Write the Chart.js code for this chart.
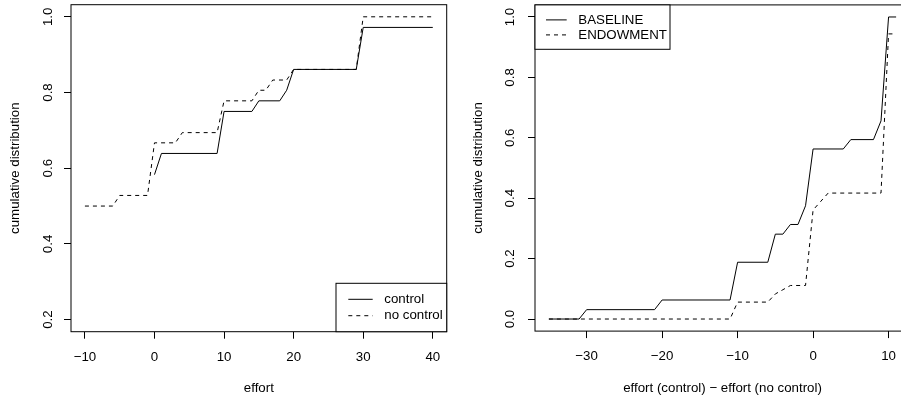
<!DOCTYPE html>
<html>
<head>
<meta charset="utf-8">
<script src="https://cdn.jsdelivr.net/npm/chart.js@4.4.1/dist/chart.umd.min.js"></script>
<style>
  html, body { margin: 0; padding: 0; background: #fff; overflow: hidden; width: 901px; height: 396px; }
  #left { position: absolute; left: 0; top: 0; width: 450px; height: 396px; }
  #right { position: absolute; left: 450px; top: 0; width: 480px; height: 396px; }
</style>
</head>
<body>
<div id="left"><canvas id="c1"></canvas></div>
<div id="right"><canvas id="c2"></canvas></div>
<script>
// left panel: cdf of effort
const effortTicks = [-10, 0, 10, 20, 30, 40];
const cdfTicksLeft = [0.2, 0.4, 0.6, 0.8, 1.0];
const controlX = [0, 1, 9, 10, 14, 15, 18, 19, 20, 29, 30, 40];
const controlY = [0.583, 0.639, 0.639, 0.75, 0.75, 0.778, 0.778, 0.806, 0.861, 0.861, 0.972, 0.972];
const noControlX = [-10, -6, -5, -1, 0, 3, 4, 9, 10, 14, 15, 16, 17, 19, 20, 29, 30, 40];
const noControlY = [0.5, 0.5, 0.528, 0.528, 0.667, 0.667, 0.694, 0.694, 0.778, 0.778, 0.806, 0.806, 0.833, 0.833, 0.861, 0.861, 1, 1];

// right panel: cdf of effort difference
const diffTicks = [-30, -20, -10, 0, 10];
const cdfTicksRight = [0.0, 0.2, 0.4, 0.6, 0.8, 1.0];
const baselineX = [-35, -31, -30, -21, -20, -11, -10, -6, -5, -4, -3, -2, -1, 0, 4, 5, 8, 9, 10, 11];
const baselineY = [0, 0, 0.031, 0.031, 0.063, 0.063, 0.188, 0.188, 0.281, 0.281, 0.313, 0.313, 0.375, 0.563, 0.563, 0.594, 0.594, 0.656, 1, 1];
const endowX = [-35, -11, -10, -6, -5, -4, -3, -1, 0, 1, 2, 9, 10, 11];
const endowY = [0, 0, 0.056, 0.056, 0.083, 0.097, 0.111, 0.111, 0.361, 0.389, 0.417, 0.417, 0.944, 0.944];

const FONT = {family: "'Liberation Sans', Arial, Helvetica, sans-serif", size: 13.3};

function pts(xs, ys) {
    return xs.map((x, i) => ({x: x, y: ys[i]}));
}

function minus(v) {
    return v < 0 ? '\u2212' + Math.abs(v) : String(v);
}

// box around the plot + R style legend inside it
const boxPlugin = {
    id: 'rbox',
    afterDatasetsDraw(chart, args, opts) {
        const a = chart.chartArea;
        const ctx = chart.ctx;
        ctx.save();
        ctx.strokeStyle = '#000';
        ctx.lineWidth = 1;
        ctx.strokeRect(a.left, a.top, a.right - a.left, a.bottom - a.top);

        const lg = opts.legend;
        const bx = lg.right ? a.right - lg.w : a.left;
        const by = lg.bottom ? a.bottom - lg.h : a.top;
        ctx.fillStyle = '#fff';
        ctx.fillRect(bx, by, lg.w, lg.h);
        ctx.strokeRect(bx, by, lg.w, lg.h);
        ctx.font = FONT.size + 'px ' + FONT.family;
        ctx.textBaseline = 'middle';
        ctx.textAlign = 'left';
        chart.data.datasets.forEach((ds, i) => {
            const y = by + lg.row0 + i * lg.rowGap;
            ctx.setLineDash(ds.borderDash || []);
            ctx.beginPath();
            ctx.moveTo(bx + lg.s0, y);
            ctx.lineTo(bx + lg.s1, y);
            ctx.stroke();
            ctx.setLineDash([]);
            ctx.fillStyle = '#000';
            ctx.fillText(ds.label, bx + lg.tx, y);
        });
        ctx.restore();
    }
};

function makePanel(id, p) {
    return new Chart(document.getElementById(id), {
        type: 'line',
        data: {
            datasets: [
                {label: p.names[0], data: p.solid, borderColor: '#000', borderWidth: 1, pointRadius: 0, tension: 0, fill: false},
                {label: p.names[1], data: p.dashed, borderColor: '#000', borderWidth: 1, borderDash: [4, 4], pointRadius: 0, tension: 0, fill: false}
            ]
        },
        options: {
            responsive: true,
            maintainAspectRatio: false,
            animation: false,
            layout: {padding: {top: p.padTop, right: p.padRight, left: 0, bottom: 0}},
            plugins: {
                legend: {display: false},
                tooltip: {enabled: false},
                rbox: {legend: p.legend}
            },
            scales: {
                x: {
                    type: 'linear',
                    min: p.xMin,
                    max: p.xMax,
                    afterBuildTicks: s => { s.ticks = p.xTicks.map(v => ({value: v})); },
                    afterFit: s => { s.height = p.xH; s.paddingLeft = 0; s.paddingRight = 0; },
                    grid: {drawOnChartArea: false, drawTicks: true, tickLength: 7, color: '#000'},
                    border: {display: false},
                    ticks: {color: '#000', font: FONT, padding: 10.5, maxRotation: 0, autoSkip: false, callback: v => minus(v)},
                    title: {display: true, text: p.xTitle, color: '#000', font: FONT, padding: {top: 0, bottom: 0}}
                },
                y: {
                    type: 'linear',
                    min: p.yMin,
                    max: p.yMax,
                    afterBuildTicks: s => { s.ticks = p.yTicks.map(v => ({value: v})); },
                    afterFit: s => { s.width = p.yW; s.paddingTop = 0; s.paddingBottom = 0; },
                    grid: {drawOnChartArea: false, drawTicks: true, tickLength: 7, color: '#000'},
                    border: {display: false},
                    ticks: {color: '#000', font: FONT, padding: p.yPad, minRotation: 90, maxRotation: 90, crossAlign: 'center', autoSkip: false, callback: v => v.toFixed(1)},
                    title: {display: true, text: 'cumulative distribution', color: '#000', font: FONT, padding: {top: p.yTitlePad, bottom: 0}}
                }
            }
        },
        plugins: [boxPlugin]
    });
}

makePanel('c1', {
    names: ['control', 'no control'],
    solid: pts(controlX, controlY),
    dashed: pts(noControlX, noControlY),
    xTicks: effortTicks, yTicks: cdfTicksLeft,
    xMin: -12, xMax: 42, yMin: 0.168, yMax: 1.032,
    xTitle: 'effort',
    padTop: 4.7, padRight: 3.3, xH: 64.3, yW: 71, yPad: 6.5, yTitlePad: 7.4,
    legend: {right: true, bottom: true, w: 110.7, h: 48.4, row0: 16, rowGap: 16.4, s0: 12.3, s1: 36.7, tx: 48.3}
});

makePanel('c2', {
    names: ['BASELINE', 'ENDOWMENT'],
    solid: pts(baselineX, baselineY),
    dashed: pts(endowX, endowY),
    xTicks: diffTicks, yTicks: cdfTicksRight,
    xMin: -36.84, xMax: 12.84, yMin: -0.04, yMax: 1.04,
    xTitle: 'effort (control) \u2212 effort (no control)',
    padTop: 4.9, padRight: 20, xH: 64.9, yW: 85, yPad: 8.75, yTitlePad: 20.7,
    legend: {right: false, bottom: false, w: 135, h: 44.4, row0: 15, rowGap: 15, s0: 11, s1: 31.7, tx: 43.3}
});
</script>
</body>
</html>
